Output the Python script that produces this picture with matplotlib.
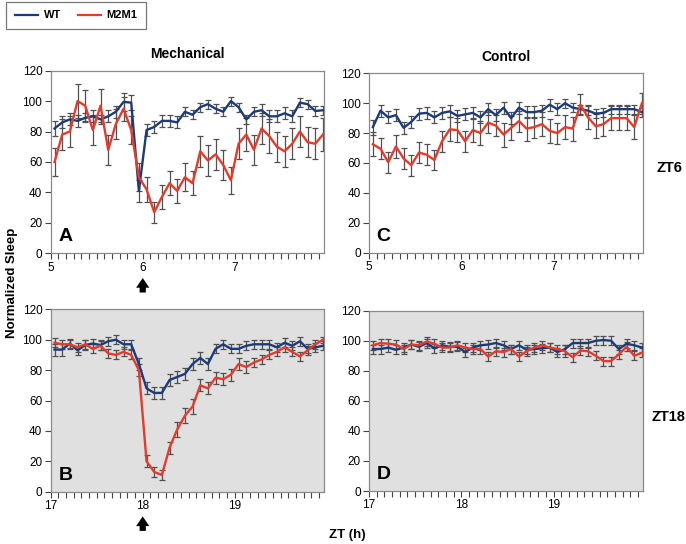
import matplotlib
matplotlib.use("Agg")
import matplotlib.pyplot as plt
from matplotlib.lines import Line2D
import numpy as np

plt.rcParams['font.family'] = ['Liberation Sans', 'DejaVu Sans']

blue = '#1b3c78'
red = '#e8392a'
ebar = '#505050'

# 5-min bins, 36 per 3 h window
n_bins = 36

# Panel A: mechanical, ZT6
a_wt = [82, 86, 88, 87, 89, 90, 88, 90, 93, 99.5, 99, 41, 81, 83, 87, 87, 86, 93,
        91, 96, 98, 95, 93, 100, 96, 88, 93, 94, 90, 90, 92, 90, 99, 98, 93.5, 94]
a_wt_err = [5, 4, 4, 4, 3, 4, 3, 4, 4, 6, 5, 7, 4, 4, 4, 4, 4, 3,
            3, 3, 3, 3, 3, 3, 3, 3, 3, 4, 4, 4, 4, 4, 3, 3, 3, 3]
a_mut = [60, 78, 80, 100, 97, 81, 97, 68, 85, 95, 81, 50, 42, 27, 37, 46, 41, 50,
         46, 67, 61, 65, 58, 48, 72, 78, 68, 82, 77, 70, 67, 72, 80, 73, 72, 78]
a_mut_err = [9, 10, 10, 11, 10, 10, 11, 10, 10, 8, 9, 9, 8, 7, 8, 8, 8, 9,
             8, 10, 10, 10, 10, 9, 10, 11, 10, 10, 11, 10, 10, 10, 10, 10, 10, 11]

# Panel B: mechanical, ZT18
b_wt = [93.5, 93.5, 97.5, 93, 96.5, 97.5, 96.5, 99, 100, 97, 97, 84, 68, 65, 65, 73.5, 75.5, 77.5,
        84, 88, 84, 94, 97, 94, 94, 96, 97, 97, 97, 95, 98, 96, 99, 94, 95, 96]
b_wt_err = [4, 4, 3, 3, 3, 3, 3, 3, 3, 3, 3, 4, 4, 4, 4, 4, 4, 4,
            4, 4, 4, 3, 3, 3, 3, 3, 3, 3, 3, 3, 3, 3, 3, 3, 3, 3]
b_mut = [98, 97, 97, 95, 97, 94, 96, 91, 90, 92, 90, 80, 20, 13, 11, 29, 41, 50,
         56, 70, 68, 75, 74, 77, 84, 82, 85, 87, 90, 92, 95, 92, 89, 93, 97, 100]
b_mut_err = [3, 3, 3, 3, 3, 3, 3, 3, 3, 3, 3, 4, 4, 3, 3, 4, 5, 5,
             5, 4, 4, 4, 4, 4, 4, 4, 3, 3, 3, 3, 3, 3, 3, 3, 3, 2]

# Panel C: control, ZT6
c_wt = [84, 95, 90.5, 92, 83.5, 87.5, 93, 93.5, 90.5, 93.5, 94.5, 91.5, 92.5, 93.5, 90.5, 96, 92, 97,
        90, 97, 94, 94, 95, 99, 96, 100, 97, 96, 95, 93, 93.5, 96, 96, 96, 96, 94]
c_wt_err = [5, 4, 4, 4, 4, 4, 4, 4, 4, 4, 4, 4, 4, 4, 4, 4, 4, 4,
            4, 4, 4, 4, 4, 4, 4, 3, 3, 3, 3, 3, 3, 3, 3, 3, 3, 3]
c_mut = [72.5, 69.5, 60.5, 71, 63, 58.5, 67, 65.5, 62, 74.5, 82.5, 82, 74.5, 82, 80, 87, 85, 79,
         83.5, 88, 83, 84, 86, 81.5, 80, 84, 83, 99, 90.5, 84.5, 86, 90, 90, 90, 84, 100]
c_mut_err = [8, 7, 7, 8, 7, 7, 7, 7, 7, 7, 8, 8, 7, 8, 8, 7, 7, 8,
             8, 7, 8, 7, 8, 8, 7, 8, 8, 7, 8, 8, 8, 8, 8, 8, 8, 7]

# Panel D: control, ZT18
d_wt = [94.5, 94.5, 95.5, 94, 95.5, 97.5, 96, 98.5, 95, 97, 96, 96, 92.5, 95.5, 97, 97.5, 98.5, 97,
        94.5, 97, 94, 94.5, 95, 95.5, 92.5, 94.5, 98.5, 98.5, 98.5, 100, 100.5, 100, 94.5, 98, 97, 95.5]
d_wt_err = [3] * n_bins
d_mut = [97, 98.5, 98, 97.5, 94.5, 97.5, 97, 99.5, 98, 95.5, 95.5, 97, 95.5, 94.5, 94.5, 89.5, 93, 92.5,
         94.5, 89.5, 93, 95.5, 97, 95.5, 94.5, 93, 89, 93.5, 93, 90, 86.5, 86.5, 91, 96, 90, 92]
d_mut_err = [3, 3, 3, 3, 3, 3, 3, 3, 3, 3, 3, 3, 3, 3, 3, 3, 3, 3,
             3, 3, 3, 3, 3, 3, 3, 4, 3, 3, 3, 3, 3, 3, 3, 3, 3, 3]

panels = [
    # letter, start hour, wt, wt err, mut, mut err, axes rect, facecolor, arrow
    ('A', 5, a_wt, a_wt_err, a_mut, a_mut_err, [0.0739, 0.5344, 0.3984, 0.3357], 'white', True),
    ('C', 5, c_wt, c_wt_err, c_mut, c_mut_err, [0.5379, 0.5355, 0.3994, 0.3298], 'white', False),
    ('B', 17, b_wt, b_wt_err, b_mut, b_mut_err, [0.0739, 0.0961, 0.3984, 0.3353], '#e0e0e0', True),
    ('D', 17, d_wt, d_wt_err, d_mut, d_mut_err, [0.5379, 0.0974, 0.3994, 0.3314], '#e0e0e0', False),
]

fig = plt.figure(figsize=(6.86, 5.44), dpi=100)

axes = {}
for letter, start, wt, wt_e, mut, mut_e, rect, fc, arrow in panels:
    ax = fig.add_axes(rect)
    axes[letter] = ax
    ax.set_facecolor(fc)
    x = start + (np.arange(n_bins) + 0.5) / 12.0

    ax.errorbar(x, wt, yerr=wt_e, fmt='none', ecolor=ebar, elinewidth=0.9,
                capsize=2.3, capthick=0.9, zorder=2)
    ax.errorbar(x, mut, yerr=mut_e, fmt='none', ecolor=ebar, elinewidth=0.9,
                capsize=2.3, capthick=0.9, zorder=2)
    ax.plot(x, wt, color=blue, lw=1.7, zorder=3)
    ax.plot(x, mut, color=red, lw=1.7, zorder=3)

    ax.set_xlim(start, start + 2.97)
    ax.set_ylim(0, 120)
    ax.set_yticks(np.arange(0, 121, 20))
    ax.set_xticks([start, start + 1, start + 2])
    ax.set_xticks(start + np.arange(36) / 12.0, minor=True)
    ax.tick_params(axis='both', which='both', direction='out', length=4,
                   width=0.8, color='#444444', labelsize=8.5, pad=2)
    for s in ax.spines.values():
        s.set_color('#8a8a8a')
        s.set_linewidth(0.9)

    ax.text(0.028, 0.045, letter, transform=ax.transAxes, fontsize=14,
            fontweight='bold', ha='left', va='bottom')

    if arrow:
        ax.annotate('', xy=(start + 1, -0.12), xytext=(start + 1, -0.23),
                    xycoords=('data', 'axes fraction'),
                    textcoords=('data', 'axes fraction'),
                    arrowprops=dict(arrowstyle='simple,head_width=0.95,head_length=0.7,tail_width=0.45',
                                    color='black', lw=0),
                    annotation_clip=False)

axes['A'].set_title('Mechanical', fontsize=10, fontweight='bold', pad=9)
axes['C'].set_title('Control', fontsize=10, fontweight='bold', pad=9)

fig.text(670 / 686, 1 - 168 / 544, 'ZT6', fontsize=10.5, fontweight='bold', ha='center', va='center')
fig.text(669 / 686, 1 - 417 / 544, 'ZT18', fontsize=10.5, fontweight='bold', ha='center', va='center')
fig.text(12 / 686, 1 - 283 / 544, 'Normalized Sleep', fontsize=9.5, fontweight='bold',
         rotation=90, ha='center', va='center')
fig.text(347 / 686, 1 - 535 / 544, 'ZT (h)', fontsize=9.5, fontweight='bold', ha='center', va='center')

handles = [Line2D([0], [0], color=blue, lw=1.6), Line2D([0], [0], color=red, lw=1.6)]
leg = fig.legend(handles, ['WT', 'M2M1'], loc='upper left', ncol=2,
                 bbox_to_anchor=(6 / 686, 1 - 1.5 / 544), frameon=True, fancybox=False,
                 edgecolor='#555555', prop={'size': 8, 'weight': 'bold'},
                 handlelength=2.1, columnspacing=1.5, borderpad=0.8, handletextpad=0.5,
                 borderaxespad=0)
leg.get_frame().set_linewidth(0.9)

fig.savefig('out.png', dpi=100)
